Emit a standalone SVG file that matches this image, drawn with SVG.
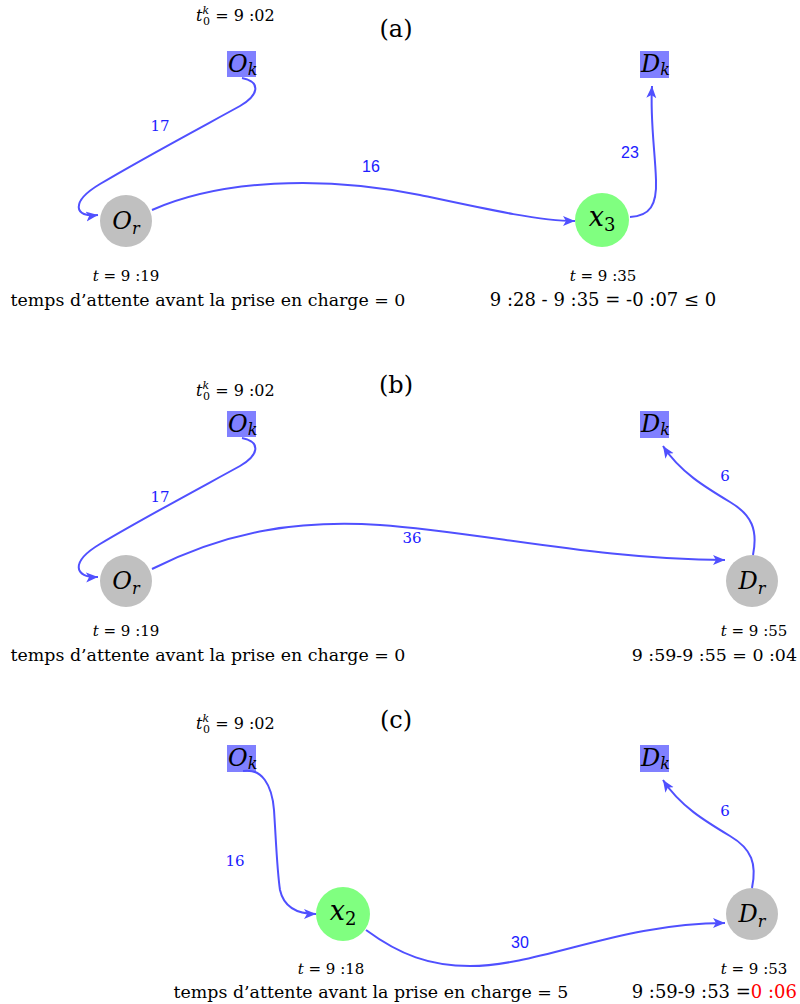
<svg xmlns="http://www.w3.org/2000/svg" width="800" height="1004" viewBox="0 0 800 1004">
<style>
text{font-family:"DejaVu Serif","Liberation Serif",serif;fill:#000}
.box{fill:#8080ff}
.gray{fill:#c0c0c0}
.green{fill:#80ff80}
.nl{font-size:24px;font-style:italic}
.sub{font-size:16px}
.edge{fill:none;stroke:#5050ff;stroke-width:2}
.el{font-size:15px;fill:#2020ff;text-anchor:middle}
.els{font-family:"Liberation Sans",Arial,sans-serif;font-size:16px;fill:#2020ff;text-anchor:middle}
.sm{font-size:15px}
.t0{font-size:16px}
.big{font-size:17.4px}
.big2{font-size:18px}
.title{font-size:24px;text-anchor:middle}
.mid{text-anchor:middle}
</style>
<defs>
<marker id="ah" markerUnits="userSpaceOnUse" markerWidth="14" markerHeight="12" refX="12" refY="5" orient="auto">
<path d="M0,0 L12,5 L0,10 L3,5 Z" fill="#5050ff"/>
</marker>
</defs>

<!-- Panel (a) -->
<text class="title" x="396" y="37">(a)</text>
<text class="t0" x="196" y="21"><tspan font-style="italic">t</tspan><tspan font-size="11" font-style="italic" dy="-7">k</tspan><tspan font-size="11" dx="-6" dy="11">0</tspan><tspan dy="-4"> = 9 :02</tspan></text>
<g id="a-Ok"><rect class="box" x="227" y="51" width="29" height="26"/><text class="nl" x="228" y="72"><tspan>O</tspan><tspan class="sub" dy="3">k</tspan></text></g>
<g id="a-Dk"><rect class="box" x="640" y="51" width="29" height="27"/><text class="nl" x="641" y="72"><tspan>D</tspan><tspan class="sub" dy="3">k</tspan></text></g>
<g id="a-Or"><circle class="gray" cx="126" cy="221" r="26"/><text class="nl mid" x="126" y="229"><tspan>O</tspan><tspan class="sub" dy="5">r</tspan></text></g>
<g id="a-x3"><circle class="green" cx="602" cy="220" r="27"/><text class="nl mid" x="602" y="226"><tspan font-size="27">x</tspan><tspan font-style="normal" font-size="18" dy="5">3</tspan></text></g>
<text class="sm mid" x="126" y="281"><tspan font-style="italic">t</tspan> = 9 :19</text>
<text class="big mid" x="208" y="306">temps d’attente avant la prise en charge = 0</text>
<text class="sm mid" x="603" y="281"><tspan font-style="italic">t</tspan> = 9 :35</text>
<text class="big2 mid" x="603" y="306">9 :28 - 9 :35 = -0 :07 ≤ 0</text>

<!-- Panel (b) -->
<text class="title" x="396" y="393">(b)</text>
<text class="t0" x="196" y="396"><tspan font-style="italic">t</tspan><tspan font-size="11" font-style="italic" dy="-7">k</tspan><tspan font-size="11" dx="-6" dy="11">0</tspan><tspan dy="-4"> = 9 :02</tspan></text>
<g id="b-Ok"><rect class="box" x="227" y="411" width="29" height="26"/><text class="nl" x="228" y="432"><tspan>O</tspan><tspan class="sub" dy="3">k</tspan></text></g>
<g id="b-Dk"><rect class="box" x="640" y="411" width="29" height="27"/><text class="nl" x="641" y="432"><tspan>D</tspan><tspan class="sub" dy="3">k</tspan></text></g>
<g id="b-Or"><circle class="gray" cx="126" cy="581" r="26"/><text class="nl mid" x="126" y="589"><tspan>O</tspan><tspan class="sub" dy="5">r</tspan></text></g>
<g id="b-Dr"><circle class="gray" cx="752" cy="581" r="26"/><text class="nl mid" x="752" y="589"><tspan>D</tspan><tspan class="sub" dy="5">r</tspan></text></g>
<text class="sm mid" x="126" y="636"><tspan font-style="italic">t</tspan> = 9 :19</text>
<text class="big mid" x="208" y="661">temps d’attente avant la prise en charge = 0</text>
<text class="sm mid" x="754" y="636"><tspan font-style="italic">t</tspan> = 9 :55</text>
<text class="big" x="797" y="661" text-anchor="end">9 :59-9 :55 = 0 :04</text>

<!-- Panel (c) -->
<text class="title" x="396" y="728">(c)</text>
<text class="t0" x="196" y="729"><tspan font-style="italic">t</tspan><tspan font-size="11" font-style="italic" dy="-7">k</tspan><tspan font-size="11" dx="-6" dy="11">0</tspan><tspan dy="-4"> = 9 :02</tspan></text>
<g id="c-Ok"><rect class="box" x="227" y="745" width="29" height="27"/><text class="nl" x="228" y="766"><tspan>O</tspan><tspan class="sub" dy="3">k</tspan></text></g>
<g id="c-Dk"><rect class="box" x="640" y="745" width="29" height="27"/><text class="nl" x="641" y="766"><tspan>D</tspan><tspan class="sub" dy="3">k</tspan></text></g>
<g id="c-x2"><circle class="green" cx="343" cy="914" r="27"/><text class="nl mid" x="343" y="920"><tspan font-size="27">x</tspan><tspan font-style="normal" font-size="18" dy="5">2</tspan></text></g>
<g id="c-Dr"><circle class="gray" cx="752" cy="914" r="26"/><text class="nl mid" x="752" y="922"><tspan>D</tspan><tspan class="sub" dy="5">r</tspan></text></g>
<text class="sm mid" x="331" y="974"><tspan font-style="italic">t</tspan> = 9 :18</text>
<text class="big mid" x="371" y="998">temps d’attente avant la prise en charge = 5</text>
<text class="sm mid" x="754" y="974"><tspan font-style="italic">t</tspan> = 9 :53</text>
<text class="big2" x="797" y="998" text-anchor="end">9 :59-9 :53 =<tspan fill="#ff0000">0 :06</tspan></text>

<!-- Connectors -->
<g id="connectors">
<path class="edge" marker-end="url(#ah)" d="M242,78 C262,82 258,96 240,106 C200,128 140,160 100,184 C70,202 74,218 98,215"/>
<path class="edge" marker-end="url(#ah)" d="M152,210 C220,180 320,175 420,195 C490,210 540,221 575,221"/>
<path class="edge" marker-end="url(#ah)" d="M630,217 C650,216 657,205 656,180 C655,150 650,120 652,86"/>
<text class="el" x="160" y="131">17</text>
<text class="els" x="371" y="172">16</text>
<text class="els" x="630" y="158">23</text>

<path class="edge" marker-end="url(#ah)" d="M242,438 C262,442 258,456 240,466 C200,488 140,520 100,544 C70,562 74,578 98,577"/>
<path class="edge" marker-end="url(#ah)" d="M152,569 C230,530 300,520 380,525 C480,532 600,560 725,560"/>
<path class="edge" marker-end="url(#ah)" d="M753,555 C758,530 752,515 730,502 C705,487 680,472 663,446"/>
<text class="el" x="160" y="502">17</text>
<text class="el" x="412" y="543">36</text>
<text class="el" x="725" y="481">6</text>

<path class="edge" marker-end="url(#ah)" d="M243,771 C262,768 272,785 274,810 C276,840 277,870 280,890 C284,908 298,914 316,914"/>
<path class="edge" marker-end="url(#ah)" d="M366,930 C400,955 430,966 470,966 C540,966 620,923 725,923"/>
<path class="edge" marker-end="url(#ah)" d="M752,888 C757,864 752,849 730,836 C705,821 680,806 663,780"/>
<text class="el" x="235" y="866">16</text>
<text class="els" x="520" y="948">30</text>
<text class="el" x="725" y="816">6</text>
</g>
</svg>
